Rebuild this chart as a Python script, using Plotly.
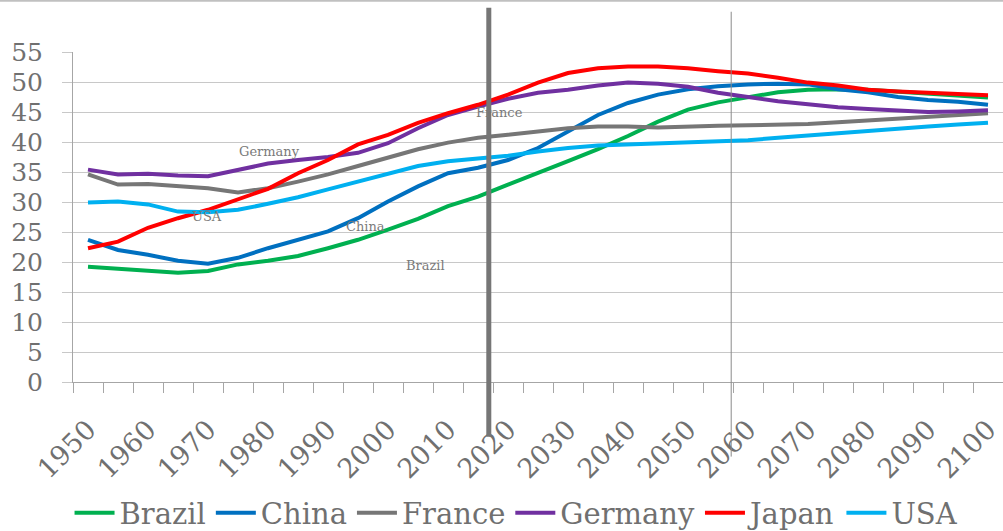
import plotly.graph_objects as go

years = list(range(1950, 2101, 5))

brazil = [19.2, 18.9, 18.6, 18.2, 18.5, 19.6, 20.2, 21.0, 22.3, 23.7, 25.4, 27.2, 29.3, 30.9, 32.9, 34.8,
          36.8, 38.8, 41.0, 43.4, 45.4, 46.6, 47.5, 48.3, 48.7, 48.8, 48.7, 48.4, 48.1, 47.8, 47.4]
china = [23.7, 22.0, 21.2, 20.2, 19.7, 20.7, 22.3, 23.7, 25.1, 27.3, 30.1, 32.6, 34.8, 35.7, 37.0, 39.0,
         41.8, 44.5, 46.5, 47.9, 48.8, 49.3, 49.6, 49.7, 49.6, 48.8, 48.3, 47.5, 47.0, 46.7, 46.2]
france = [34.6, 32.9, 33.0, 32.6, 32.3, 31.6, 32.3, 33.4, 34.6, 36.0, 37.4, 38.8, 39.9, 40.7, 41.2, 41.8,
          42.3, 42.6, 42.6, 42.4, 42.6, 42.7, 42.8, 42.9, 43.0, 43.3, 43.6, 43.9, 44.3, 44.6, 44.8]
germany = [35.4, 34.6, 34.7, 34.4, 34.3, 35.4, 36.4, 37.0, 37.5, 38.2, 39.8, 42.3, 44.5, 45.9, 47.2, 48.2,
           48.7, 49.4, 49.9, 49.7, 49.2, 48.2, 47.5, 46.8, 46.3, 45.8, 45.5, 45.2, 45.0, 45.1, 45.3]
japan = [22.3, 23.4, 25.7, 27.3, 28.7, 30.4, 32.2, 34.8, 37.0, 39.6, 41.2, 43.2, 44.8, 46.2, 47.9, 49.9,
         51.5, 52.3, 52.6, 52.6, 52.3, 51.8, 51.4, 50.7, 49.9, 49.4, 48.7, 48.4, 48.2, 48.0, 47.8]
usa = [29.9, 30.1, 29.6, 28.4, 28.3, 28.7, 29.7, 30.8, 32.1, 33.4, 34.8, 36.0, 36.8, 37.3, 37.7, 38.4,
       39.0, 39.4, 39.6, 39.8, 40.0, 40.1, 40.3, 40.7, 41.1, 41.4, 41.9, 42.3, 42.6, 42.9, 43.2]

series_names = ["Brazil", "China", "France", "Germany", "Japan", "USA"]
series_values = [brazil, china, france, germany, japan, usa]
series_colors = ["#00B050", "#0070C0", "#767676", "#7030A0", "#FF0000", "#00B0F0"]

x_tick_labels = [str(y) for y in range(1950, 2101, 10)]
y_tick_vals = list(range(0, 56, 5))

# in-chart text labels: (text, year, value)
label_texts = ["Japan", "France", "Germany", "USA", "China", "Brazil"]
label_x = [2024.8, 2018.5, 1980.3, 1969.8, 1996.3, 2006.3]
label_y = [57.2, 45.0, 38.4, 27.6, 25.9, 19.4]

SERIF = "DejaVu Serif"
TXT = "#707070"
GRID = "#C8C8C8"

fig = go.Figure()
for name, vals, col in zip(series_names, series_values, series_colors):
    fig.add_trace(go.Scatter(x=years, y=vals, mode="lines", name=name,
                             line=dict(color=col, width=4)))

for t, xv, yv in zip(label_texts, label_x, label_y):
    fig.add_annotation(x=xv, y=yv, xref="x", yref="y", text=t, showarrow=False,
                       font=dict(family=SERIF, size=13, color="#7A7A7A"))

# vertical marker lines
fig.add_shape(type="line", xref="x", yref="paper", x0=2016.8, x1=2016.8, y0=-0.166, y1=1.134,
              line=dict(color="#767676", width=5), layer="above")
fig.add_shape(type="line", xref="x", yref="paper", x0=2057.2, x1=2057.2, y0=-0.226, y1=1.122,
              line=dict(color="#8A8A8A", width=1), layer="above")
# top border
fig.add_shape(type="line", xref="paper", yref="paper", x0=-0.08, x1=1.0, y0=1.155, y1=1.155,
              line=dict(color="#C0C0C0", width=2), layer="above")

fig.update_layout(
    width=1003, height=531,
    margin=dict(l=73, r=0, t=52, b=149),
    paper_bgcolor="white", plot_bgcolor="white",
    showlegend=True,
    legend=dict(orientation="h", xref="container", yref="container", x=0.515, y=0.034,
                xanchor="center", yanchor="middle",
                font=dict(family=SERIF, size=29, color=TXT), itemwidth=40, tracegroupgap=0),
    xaxis=dict(range=[1947.5, 2102.5], tickmode="array",
               tickvals=list(range(1950, 2101, 10)), ticktext=x_tick_labels,
               tickangle=-45, ticks="", showgrid=False, zeroline=False,
               showline=True, linecolor="#A6A6A6", linewidth=1,
               tickfont=dict(family=SERIF, size=27, color=TXT),
               ticklabelstandoff=20,
               minor=dict(ticks="outside", tick0=1947.5, dtick=5, ticklen=10,
                          tickcolor="#A6A6A6", showgrid=False)),
    yaxis=dict(range=[0, 55], tickmode="array", tickvals=y_tick_vals,
               ticks="outside", ticklen=10, tickcolor=GRID,
               showgrid=True, gridcolor=GRID, gridwidth=1, zeroline=False,
               showline=True, linecolor="#A6A6A6", linewidth=1,
               tickfont=dict(family=SERIF, size=25, color=TXT),
               ticklabelstandoff=14),
)

fig.write_html("out.html")
